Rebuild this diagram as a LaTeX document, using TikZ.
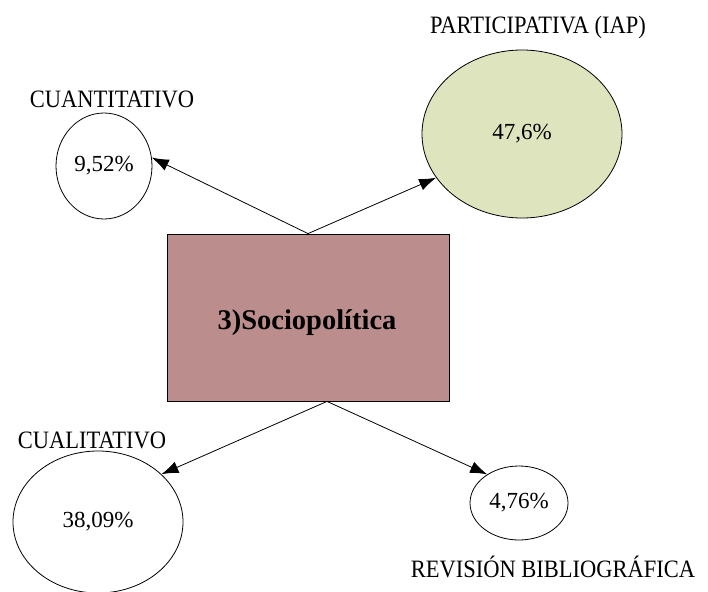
\documentclass[tikz,border=0pt]{standalone}
\usepackage{fontspec}
\setmainfont{Liberation Serif}
\newfontfamily\etiq{Liberation Serif}[FakeStretch=0.9]
\usetikzlibrary{arrows.meta,shapes.geometric,calc}
\definecolor{rosa}{RGB}{188,141,141}
\definecolor{oliva}{RGB}{222,228,190}
\begin{document}
\begin{tikzpicture}[x=1pt,y=-1pt]
  \tikzstyle{every node}=[font=\fontsize{23}{27}\selectfont]
  \tikzstyle{etiqueta}=[font=\etiq\fontsize{25}{30}\selectfont]
  \tikzstyle{elip}=[ellipse, draw, line width=0.8pt, inner sep=0pt]
  \tikzstyle{flecha}=[line width=0.8pt, -{Latex[length=17pt,width=12pt]}]
  \useasboundingbox (0,0) rectangle (708,591);
  \node[draw, line width=0.8pt, fill=rosa, minimum width=282pt, minimum height=167pt] (socio) at (308,317.5) {};
  \node[font=\fontsize{28.5}{33}\selectfont\bfseries] (titulo) at (307,323) {3)Sociopolítica};
  % elipses
  \foreach \n/\x/\y/\w/\h/\c/\t in {cuanti/104/166/96/106/white/{9,52\%},
      partic/522/134/200/168/oliva/{47,6\%},
      cuali/98/522/170/142/white/{38,09\%},
      revis/519/503/98/74/white/{4,76\%}}{
    \node[elip, fill=\c, minimum width=\w pt, minimum height=\h pt] (\n) at (\x,\y) {\t};
  }
  % etiquetas
  \foreach \n/\x/\y/\t in {cuanti/112/99/CUANTITATIVO,
      partic/538/27/PARTICIPATIVA (IAP),
      cuali/92/440/CUALITATIVO,
      revis/553/567/REVISIÓN BIBLIOGRÁFICA}{
    \node[etiqueta] (et\n) at (\x,\y) {\t};
  }
  \coordinate (base) at ($(socio.south)+(19,0)$);
  \draw[flecha] (socio.north) -- (cuanti.10);
  \draw[flecha] (socio.north) -- (partic.207);
  \draw[flecha] (base) -- (cuali.37);
  \draw[flecha] (base) -- (revis.138);
\end{tikzpicture}
\end{document}
